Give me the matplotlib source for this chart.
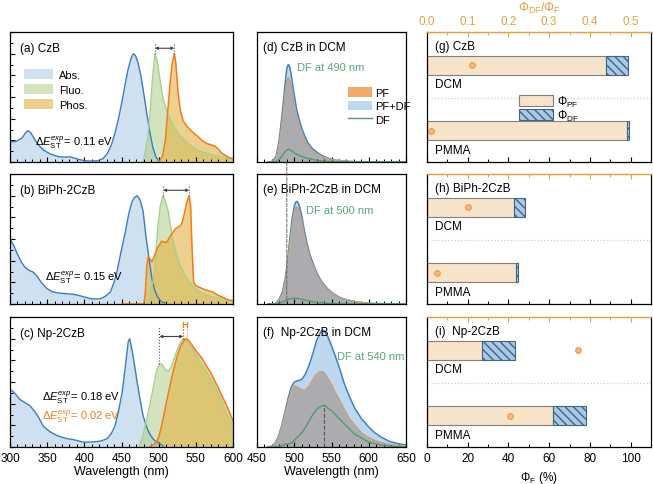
import matplotlib
matplotlib.use('Agg')
import matplotlib.pyplot as plt
from matplotlib.patches import Patch, ConnectionPatch
from matplotlib.lines import Line2D
from matplotlib.ticker import MultipleLocator, FixedLocator

plt.rcParams['font.family'] = ['Liberation Sans', 'DejaVu Sans']
plt.rcParams['mathtext.fontset'] = 'custom'
plt.rcParams['mathtext.rm'] = 'Liberation Sans'
plt.rcParams['mathtext.it'] = 'Liberation Sans:italic'
plt.rcParams['axes.linewidth'] = 0.9

# ---------------- data: steady-state spectra (a)-(c) ----------------
abs_a_wl = [300, 308, 316, 321, 324, 328, 333, 338, 345, 354, 365, 375, 380, 385, 392, 400, 410, 418, 425, 431,
            436, 441, 446, 451, 455, 459, 463, 466, 469, 472, 476, 480, 484, 488, 492, 496, 500]
abs_a = [0.185, 0.19, 0.22, 0.27, 0.29, 0.27, 0.21, 0.16, 0.11, 0.075, 0.05, 0.045, 0.048, 0.04, 0.025, 0.012, 0.008,
         0.012, 0.03, 0.08, 0.15, 0.26, 0.4, 0.57, 0.72, 0.86, 0.96, 1.0, 0.98, 0.92, 0.8, 0.63, 0.45, 0.28, 0.14, 0.05, 0.01]
flu_a_wl = [479, 485, 489, 492, 495, 498, 502, 506, 512, 520, 528, 538, 547, 556, 570, 583, 600]
flu_a = [0.0, 0.2, 0.5, 0.8, 1.0, 0.93, 0.75, 0.58, 0.45, 0.33, 0.25, 0.18, 0.13, 0.1, 0.07, 0.05, 0.03]
pho_a_wl = [500, 505, 509, 512, 515, 518, 521, 523, 526, 529, 533, 538, 545, 552, 558, 565, 570, 576, 580, 585, 590, 595, 600]
pho_a = [0.0, 0.05, 0.2, 0.45, 0.7, 0.9, 1.0, 0.92, 0.65, 0.48, 0.38, 0.33, 0.28, 0.24, 0.2, 0.17, 0.16, 0.145, 0.12,
         0.08, 0.06, 0.04, 0.03]

abs_b_wl = [300, 305, 310, 315, 320, 326, 331, 336, 342, 350, 358, 367, 376, 385, 392, 400, 408, 415, 422, 428, 435,
            440, 444, 449, 455, 460, 464, 467, 471, 475, 479, 483, 487, 491, 495, 499, 503, 508]
abs_b = [0.6, 0.54, 0.46, 0.39, 0.34, 0.31, 0.295, 0.26, 0.2, 0.14, 0.11, 0.1, 0.095, 0.09, 0.08, 0.065, 0.05, 0.046,
         0.05, 0.07, 0.11, 0.2, 0.3, 0.47, 0.66, 0.84, 0.94, 0.98, 1.0, 0.96, 0.86, 0.62, 0.42, 0.23, 0.12, 0.06, 0.025, 0.01]
flu_b_wl = [484, 488, 493, 496, 499, 502, 506, 509, 513, 516, 520, 524, 529, 535, 542, 550, 558, 570, 583, 600]
flu_b = [0.0, 0.08, 0.23, 0.45, 0.72, 0.9, 1.0, 0.95, 0.85, 0.72, 0.57, 0.46, 0.35, 0.27, 0.2, 0.14, 0.1, 0.07, 0.05, 0.03]
pho_b_wl = [452, 480, 482, 484, 486, 488, 491, 494, 498, 504, 508, 511, 515, 519, 522, 526, 529, 532, 535, 538, 541,
            543, 545, 547, 550, 556, 563, 573, 580, 587, 593, 600]
pho_b = [0.0, 0.0, 0.1, 0.35, 0.44, 0.42, 0.39, 0.44, 0.51, 0.58, 0.57, 0.57, 0.62, 0.66, 0.69, 0.71, 0.72, 0.76, 0.85,
         0.94, 1.0, 0.9, 0.5, 0.2, 0.17, 0.15, 0.13, 0.11, 0.08, 0.06, 0.04, 0.03]

abs_c_wl = [300, 306, 313, 320, 327, 333, 338, 345, 354, 362, 370, 378, 384, 390, 398, 406, 414, 422, 430, 436, 441,
            446, 451, 454, 457, 459, 461, 464, 467, 471, 475, 479, 484, 488, 493, 498, 506]
abs_c = [0.535, 0.5, 0.44, 0.41, 0.38, 0.33, 0.28, 0.19, 0.14, 0.11, 0.09, 0.075, 0.07, 0.06, 0.046, 0.045, 0.048, 0.055,
         0.074, 0.12, 0.19, 0.33, 0.51, 0.68, 0.85, 0.97, 1.0, 0.9, 0.78, 0.6, 0.44, 0.29, 0.18, 0.12, 0.07, 0.046, 0.01]
flu_c_wl = [473, 478, 484, 489, 493, 497, 501, 505, 509, 513, 517, 521, 525, 529, 533, 538, 542, 546, 552, 558, 565,
            572, 578, 583, 588, 594, 600]
flu_c = [0.0, 0.08, 0.26, 0.42, 0.56, 0.7, 0.77, 0.76, 0.71, 0.7, 0.74, 0.82, 0.9, 0.96, 1.0, 0.98, 0.94, 0.9, 0.83,
         0.76, 0.69, 0.6, 0.53, 0.45, 0.36, 0.27, 0.2]
pho_c_wl = [488, 493, 498, 502, 506, 510, 515, 520, 525, 530, 536, 541, 546, 551, 556, 560, 565, 569, 574, 580, 586,
            591, 596, 600]
pho_c = [0.0, 0.02, 0.05, 0.14, 0.26, 0.4, 0.56, 0.71, 0.84, 0.94, 1.0, 0.98, 0.93, 0.88, 0.84, 0.8, 0.74, 0.7, 0.63,
         0.55, 0.46, 0.39, 0.31, 0.24]

titles_left = ['(a) CzB', '(b) BiPh-2CzB', '(c) Np-2CzB']
dest_left = ['0.11', '0.15', '0.18']
# peak pairs for the arrows (fluo peak, phos peak)
arrow_left = [(495, 521), (506, 541), (501, 533)]

# ---------------- data: transient spectra (d)-(f) ----------------
d_wl = [465, 471, 476, 480, 483, 486, 488, 490, 492, 494, 496, 499, 503, 507, 510, 514, 518, 524, 530, 537, 545, 555,
        565, 580, 650]
d_pfdf = [0, 0.005, 0.05, 0.18, 0.33, 0.49, 0.62, 0.72, 0.75, 0.73, 0.67, 0.55, 0.41, 0.32, 0.26, 0.2, 0.15, 0.105,
          0.077, 0.05, 0.03, 0.015, 0.008, 0.003, 0]
d_pf = [0, 0.004, 0.04, 0.15, 0.28, 0.42, 0.54, 0.63, 0.65, 0.63, 0.58, 0.47, 0.35, 0.27, 0.22, 0.17, 0.13, 0.09,
        0.066, 0.043, 0.026, 0.013, 0.007, 0.002, 0]
d_df = [0, 0, 0.005, 0.02, 0.04, 0.065, 0.08, 0.092, 0.097, 0.094, 0.088, 0.075, 0.06, 0.05, 0.042, 0.035, 0.028,
        0.02, 0.013, 0.008, 0.004, 0.002, 0.001, 0, 0]

e_wl = [465, 475, 480, 484, 488, 491, 494, 497, 500, 502, 504, 506, 508, 510, 513, 517, 521, 526, 531, 537, 545, 553,
        563, 575, 590, 605, 650]
e_pfdf = [0, 0.003, 0.04, 0.09, 0.2, 0.33, 0.5, 0.65, 0.75, 0.785, 0.79, 0.77, 0.73, 0.68, 0.58, 0.47, 0.38, 0.3,
          0.23, 0.17, 0.115, 0.077, 0.045, 0.026, 0.01, 0.004, 0]
e_pf = [0, 0.003, 0.032, 0.075, 0.175, 0.297, 0.46, 0.607, 0.706, 0.741, 0.747, 0.729, 0.691, 0.644, 0.548, 0.443,
        0.358, 0.283, 0.217, 0.161, 0.11, 0.074, 0.044, 0.026, 0.01, 0.004, 0]
e_df = [0, 0, 0.008, 0.015, 0.025, 0.033, 0.04, 0.043, 0.044, 0.044, 0.043, 0.041, 0.039, 0.036, 0.032, 0.027, 0.022,
        0.017, 0.013, 0.009, 0.005, 0.003, 0.001, 0, 0, 0, 0]

f_wl = [465, 472, 478, 483, 488, 492, 496, 500, 505, 510, 515, 520, 525, 530, 535, 538, 541, 545, 550, 555, 560, 567,
        574, 581, 590, 599, 608, 617, 627, 636, 650]
f_pfdf = [0, 0.01, 0.07, 0.16, 0.28, 0.38, 0.46, 0.5, 0.51, 0.52, 0.56, 0.63, 0.72, 0.82, 0.88, 0.9, 0.89, 0.85, 0.78,
          0.7, 0.62, 0.49, 0.39, 0.3, 0.22, 0.16, 0.11, 0.075, 0.045, 0.03, 0.015]
f_pf = [0, 0.01, 0.065, 0.15, 0.26, 0.355, 0.43, 0.47, 0.46, 0.44, 0.44, 0.47, 0.52, 0.56, 0.58, 0.58, 0.565, 0.53,
        0.48, 0.42, 0.37, 0.29, 0.22, 0.17, 0.11, 0.075, 0.05, 0.035, 0.022, 0.012, 0.005]
f_df = [0, 0, 0.005, 0.01, 0.02, 0.025, 0.03, 0.05, 0.08, 0.11, 0.15, 0.2, 0.25, 0.29, 0.31, 0.32, 0.32, 0.3, 0.28,
        0.25, 0.22, 0.18, 0.14, 0.1, 0.07, 0.04, 0.027, 0.014, 0.008, 0.004, 0]

titles_mid = ['(d) CzB in DCM', '(e) BiPh-2CzB in DCM', '(f)  Np-2CzB in DCM']
df_peak = [490, 500, 540]

# ---------------- data: quantum yields (g)-(i) ----------------
titles_right = ['(g) CzB', '(h) BiPh-2CzB', '(i)  Np-2CzB']
hosts = ['DCM', 'PMMA']
phi_pf = [[88, 98], [42.8, 43.8], [27, 62]]      # %
phi_df = [[10.7, 1.0], [5.4, 1.1], [16.2, 16.0]]  # %
ratio_df = [[0.11, 0.01], [0.10, 0.024], [0.37, 0.205]]
ratio_ticks = [0.0, 0.1, 0.2, 0.3, 0.4, 0.5]

# ---------------- colours ----------------
c_abs, c_abs_f = '#3a7dc0', '#c3d9ee'
c_flu, c_flu_f = '#a8d08d', '#b0cc88'
c_pho, c_pho_f = '#f07d1a', '#e3b243'
c_pfdf, c_pfdf_f = '#3d83c4', '#bdd7ee'
c_pf, c_pf_f = '#c4a27c', '#acacb0'
c_df = '#4d9b6f'
c_or = '#e8a040'
c_beige = '#f7e4c8'
c_dfbar = '#a9c9e6'

W, H = 653, 485
fig = plt.figure(figsize=(W / 100, H / 100), dpi=100)


def box(x0, x1, y0, y1):
    return [x0 / W, 1 - y1 / H, (x1 - x0) / W, (y1 - y0) / H]


rows = [(33, 163), (175, 305), (318, 448)]
axL = [fig.add_axes(box(10, 233, r0, r1)) for r0, r1 in rows]
axM = [fig.add_axes(box(257, 406, r0, r1)) for r0, r1 in rows]
axR = [fig.add_axes(box(427, 651, r0, r1)) for r0, r1 in rows]

# ----- left column -----
spec = [(abs_a_wl, abs_a, flu_a_wl, flu_a, pho_a_wl, pho_a),
        (abs_b_wl, abs_b, flu_b_wl, flu_b, pho_b_wl, pho_b),
        (abs_c_wl, abs_c, flu_c_wl, flu_c, pho_c_wl, pho_c)]
for i, ax in enumerate(axL):
    aw, av, fw, fv, pw, pv = spec[i]
    ax.fill_between(aw, av, color=c_abs_f, alpha=0.8, lw=0)
    ax.fill_between(fw, fv, color=c_flu_f, alpha=0.55, lw=0)
    ax.fill_between(pw, pv, color=c_pho_f, alpha=0.6, lw=0)
    ax.plot(aw, av, color=c_abs, lw=1.0)
    ax.plot(fw, fv, color=c_flu, lw=1.0)
    ax.plot(pw, pv, color=c_pho, lw=1.1)
    ax.set_xlim(300, 600)
    ax.set_ylim(0, 1.2)
    ax.xaxis.set_major_locator(MultipleLocator(50))
    ax.xaxis.set_minor_locator(MultipleLocator(10))
    ax.yaxis.set_major_locator(MultipleLocator(0.2))
    ax.yaxis.set_minor_locator(MultipleLocator(0.1))
    ax.tick_params(which='both', direction='in', top=False, right=False, labelleft=False, labelsize=8.5)
    ax.tick_params(which='major', length=3.5, width=0.8)
    ax.tick_params(which='minor', length=2, width=0.7)
    if i < 2:
        ax.tick_params(labelbottom=False)
    else:
        ax.set_xlabel('Wavelength (nm)', fontsize=9, labelpad=1)
    ax.text(0.045, 0.88, titles_left[i], transform=ax.transAxes, fontsize=8.5, va='center')
    x1, x2 = arrow_left[i]
    top = 1.1 if i < 2 else 1.11
    yarr = 1.05 if i < 2 else 1.02
    ax.plot([x1, x1], [fv[fw.index(x1)] if x1 in fw else 1.0, top], ls=':', color='#555555', lw=0.8)
    ax.plot([x2, x2], [1.0, top], ls=':', color='#555555', lw=0.8)
    ax.annotate('', xy=(x2, yarr), xytext=(x1, yarr),
                arrowprops=dict(arrowstyle='<|-|>', color='#444444', lw=0.8, mutation_scale=4, shrinkA=0, shrinkB=0))

axL[0].text(0.112, 0.154, r'$\Delta E_{\rm ST}^{exp}$= ' + dest_left[0] + ' eV', transform=axL[0].transAxes,
            fontsize=8, va='center')
axL[1].text(0.157, 0.208, r'$\Delta E_{\rm ST}^{exp}$= ' + dest_left[1] + ' eV', transform=axL[1].transAxes,
            fontsize=8, va='center')
axL[2].text(0.143, 0.385, r'$\Delta E_{\rm ST}^{exp}$= ' + dest_left[2] + ' eV', transform=axL[2].transAxes,
            fontsize=8, va='center')
axL[2].text(0.143, 0.238, r'$\Delta E_{\rm ST}^{exp}$= 0.02 eV', transform=axL[2].transAxes,
            fontsize=8, va='center', color=c_pho)
# small orange marker in (c)
for xv in (533, 538):
    axL[2].plot([xv, xv], [1.0, 1.14], ls=':', color=c_pho, lw=0.8)
axL[2].annotate('', xy=(538, 1.13), xytext=(533, 1.13),
                arrowprops=dict(arrowstyle='|-|', color=c_pho, lw=0.9, mutation_scale=2, shrinkA=0, shrinkB=0))

leg_h = [Patch(facecolor=c_abs_f, edgecolor='none', alpha=0.8),
         Patch(facecolor=c_flu_f, edgecolor='none', alpha=0.55),
         Patch(facecolor=c_pho_f, edgecolor='none', alpha=0.6)]
axL[0].legend(leg_h, ['Abs.', 'Fluo.', 'Phos.'], loc='upper left', bbox_to_anchor=(0.04, 0.76), frameon=False,
              fontsize=8, handlelength=2.6, handleheight=1.1, labelspacing=0.35, handletextpad=0.5, borderpad=0)

# ----- middle column -----
tr = [(d_wl, d_pfdf, d_pf, d_df), (e_wl, e_pfdf, e_pf, e_df), (f_wl, f_pfdf, f_pf, f_df)]
df_pos = [(0.27, 0.73), (0.33, 0.72), (0.54, 0.70)]
for i, ax in enumerate(axM):
    w, tot, pf, df = tr[i]
    ax.fill_between(w, tot, color=c_pfdf_f, lw=0)
    ax.fill_between(w, pf, color=c_pf_f, lw=0)
    ax.plot(w, tot, color=c_pfdf, lw=1.1)
    ax.plot(w, pf, color=c_pf, lw=1.0)
    ax.plot(w, df, color=c_df, lw=1.0)
    ax.set_xlim(450, 650)
    ax.set_ylim(0, 1.0)
    ax.set_yticks([])
    ax.xaxis.set_major_locator(MultipleLocator(50))
    ax.xaxis.set_minor_locator(MultipleLocator(10))
    ax.tick_params(which='both', direction='in', top=False, labelsize=8.5)
    ax.tick_params(which='major', length=3.5, width=0.8)
    ax.tick_params(which='minor', length=2, width=0.7)
    if i < 2:
        ax.tick_params(labelbottom=False)
    else:
        ax.set_xlabel('Wavelength (nm)', fontsize=9, labelpad=1)
    ax.text(0.04, 0.885, titles_mid[i], transform=ax.transAxes, fontsize=8.5, va='center')
    ax.text(df_pos[i][0], df_pos[i][1], 'DF at %d nm' % df_peak[i], transform=ax.transAxes, fontsize=8,
            va='center', color='#5aa57a')

axM[2].plot([df_peak[2], df_peak[2]], [0, f_df[f_wl.index(541)]], ls='--', color='#555555', lw=0.8)
con = ConnectionPatch(xyA=(df_peak[0], 0), coordsA=axM[0].transData,
                      xyB=(df_peak[0], 0), coordsB=axM[1].transData, ls='--', color='#666666', lw=0.7)
fig.add_artist(con)

mid_h = [Patch(facecolor='#f0aa6a', edgecolor='none'), Patch(facecolor=c_pfdf_f, edgecolor='none'),
         Line2D([], [], color=c_df, lw=1.0)]
axM[0].legend(mid_h, ['PF', 'PF+DF', 'DF'], loc='upper left', bbox_to_anchor=(0.575, 0.62), frameon=False,
              fontsize=8, handlelength=2.1, handleheight=1.0, labelspacing=0.25, handletextpad=0.3, borderpad=0)

# ----- right column -----
for i, ax in enumerate(axR):
    ypos = [0, 1]
    ax.barh(ypos, phi_pf[i], height=0.29, color=c_beige, edgecolor='#808080', lw=0.8)
    ax.barh(ypos, phi_df[i], left=phi_pf[i], height=0.29, color=c_dfbar, edgecolor='#3f6688', lw=0.8, hatch='\\\\\\\\')
    sec = ax.secondary_xaxis('top', functions=(lambda x: x / 200, lambda x: x * 200))
    ax.plot([r * 200 for r in ratio_df[i]], ypos, 'o', ms=4, mfc='#f5bb86', mec=c_or, mew=0.9)
    ax.axhline(0.5, xmin=0.02, color='#c8cde0', ls=':', lw=0.9)
    ax.set_xlim(0, 110)
    ax.set_ylim(1.475, -0.51)
    ax.set_yticks([])
    ax.xaxis.set_major_locator(MultipleLocator(20))
    ax.xaxis.set_minor_locator(MultipleLocator(10))
    ax.tick_params(which='both', direction='in', labelsize=8.5)
    ax.tick_params(which='major', length=3.5, width=0.8)
    ax.tick_params(which='minor', length=2, width=0.7)
    sec.xaxis.set_major_locator(FixedLocator(ratio_ticks))
    sec.xaxis.set_minor_locator(FixedLocator([0.05, 0.15, 0.25, 0.35, 0.45]))
    sec.tick_params(which='both', direction='in', colors=c_or, labelsize=8.5)
    sec.tick_params(which='major', length=3.5, width=0.8)
    sec.tick_params(which='minor', length=2, width=0.7)
    sec.spines['top'].set_color(c_or)
    ax.spines['top'].set_color(c_or)
    if i == 0:
        sec.set_xlabel(r'$\Phi_{\rm DF}/\Phi_{\rm F}$', color=c_or, fontsize=9, labelpad=3)
    else:
        sec.tick_params(labeltop=False)
    if i < 2:
        ax.tick_params(labelbottom=False)
    else:
        ax.set_xlabel(r'$\Phi_{\rm F}$ (%)', fontsize=8.5, labelpad=4)
    ax.text(4, -0.3, titles_right[i], fontsize=8.5, va='center')
    ax.text(4, 0.28, hosts[0], fontsize=8.5, va='center')
    ax.text(4, 1.29, hosts[1], fontsize=8.5, va='center')

r_h = [Patch(facecolor=c_beige, edgecolor='#808080', lw=0.8),
       Patch(facecolor=c_dfbar, edgecolor='#3f6688', lw=0.8, hatch='\\\\\\\\')]
axR[0].legend(r_h, [r'$\Phi_{\rm PF}$', r'$\Phi_{\rm DF}$'], loc='upper left', bbox_to_anchor=(0.385, 0.57),
              frameon=False, fontsize=8.5, handlelength=2.9, handleheight=1.0, labelspacing=-0.1,
              handletextpad=0.3, borderpad=0)

fig.savefig('out.png', dpi=100)
